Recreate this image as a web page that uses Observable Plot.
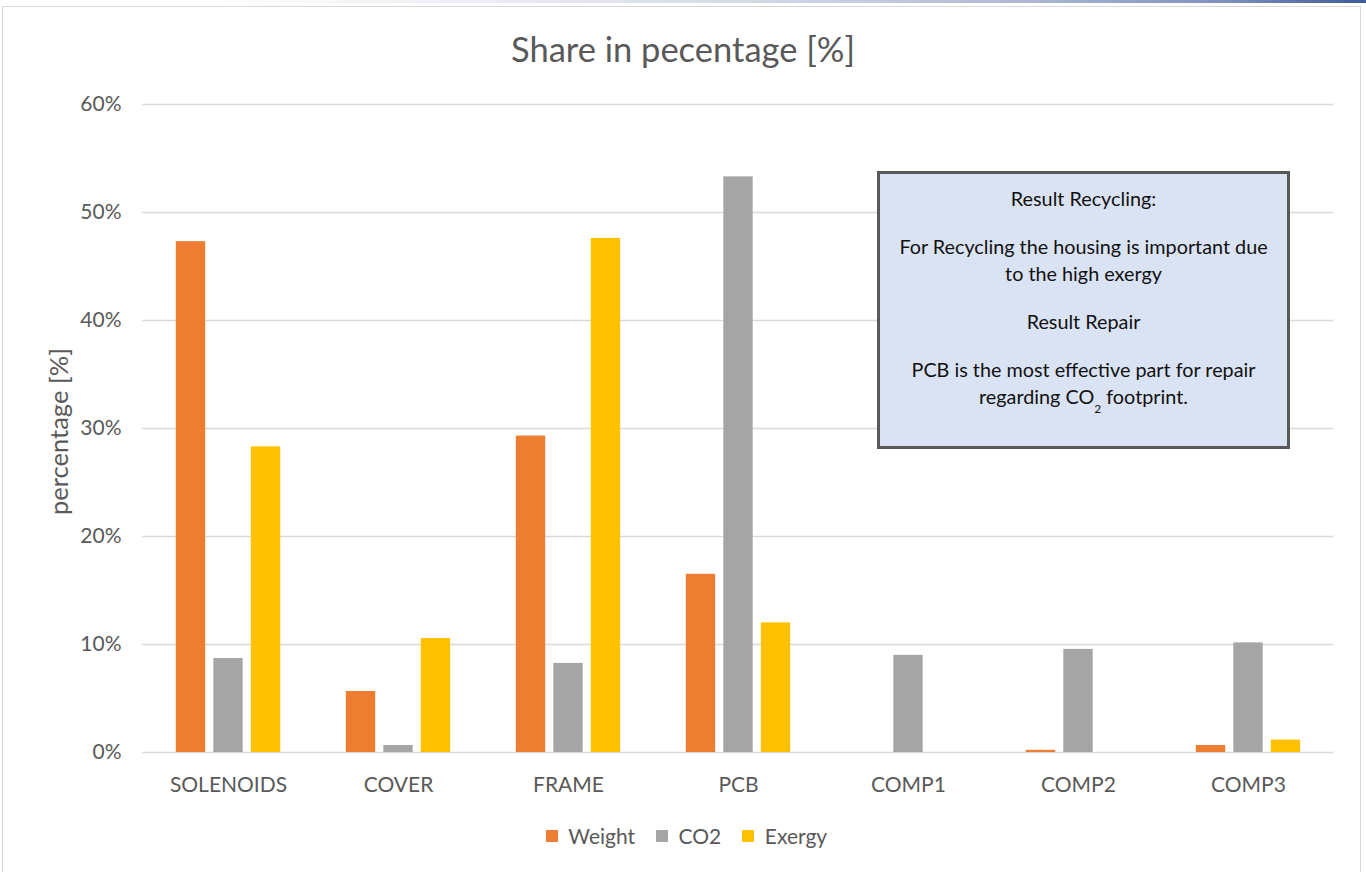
<!DOCTYPE html>
<html>
<head>
<meta charset="utf-8">
<script src="https://cdn.jsdelivr.net/npm/d3@7"></script>
<script src="https://cdn.jsdelivr.net/npm/@observablehq/plot@0.6"></script>
<style>
  html, body { margin: 0; padding: 0; background: #fff; }
  #page { position: relative; width: 1366px; height: 872px; overflow: hidden; font-family: Lato, "Open Sans", sans-serif; }
  #strip { position: absolute; left: 0; top: 0; width: 1366px; height: 3px;
    background: linear-gradient(to right, #ffffff 14%, #eceef4 35%, #d4d9e6 55%, #aeb8d2 75%, #7d8fbd 90%, #3d5a98 100%); }
  #frame { position: absolute; left: 2px; top: 6px; width: 1359px; height: 900px; border: 1.5px solid #d9d9d9; box-sizing: border-box; }
  #title { position: absolute; left: 0; top: 27px; width: 1366px; text-align: center; font-size: 34.5px; color: #595959; line-height: 44px; }
  #chart { position: absolute; left: 0; top: 80px; }
  #legend { position: absolute; left: 14px; top: 819px; width: 1366px; display: flex; justify-content: center; }
  #note { position: absolute; left: 877px; top: 171px; width: 413px; height: 278px; box-sizing: border-box;
    background: #dae3f3; border: 3px solid #595959; text-align: center; color: #111; font-size: 19.8px;
    line-height: 27px; padding-top: 11px; }
  #note p { margin: 0 0 21px 0; }
  #note sub { font-size: 12px; vertical-align: -9px; line-height: 0; }
</style>
</head>
<body>
<div id="page">
  <div id="strip"></div>
  <div id="frame"></div>
  <div id="title">Share in pecentage [%]</div>
  <div id="chart"></div>
  <div id="note">
    <p>Result Recycling:</p>
    <p>For Recycling the housing is important due<br>to the high exergy</p>
    <p>Result Repair</p>
    <p>PCB is the most effective part for repair<br>regarding CO<sub>2</sub> footprint.</p>
  </div>
  <div id="legend"></div>
</div>
<script>
// Components of the assembly and the three measures compared for each one
const categories = ["SOLENOIDS", "COVER", "FRAME", "PCB", "COMP1", "COMP2", "COMP3"];
const series = ["Weight", "CO2", "Exergy"];

// Share of each component in percent
const weight = [47.3, 5.65, 29.3, 16.5, 0, 0.2, 0.65];
const co2 = [8.7, 0.65, 8.25, 53.3, 9.0, 9.55, 10.15];
const exergy = [28.3, 10.55, 47.6, 12.0, 0, 0, 1.15];

const seriesColors = ["#ed7d31", "#a5a5a5", "#ffc000"];
const yTicks = [0, 10, 20, 30, 40, 50, 60];

const valuesBySeries = {Weight: weight, CO2: co2, Exergy: exergy};
const rows = series.flatMap(s =>
  categories.map((c, i) => ({category: c, series: s, value: valuesBySeries[s][i]}))
);

// Grouped bars: each series is shifted inside its category band
const barWidth = 29.5;
const barStep = 37.5;
const band = (1366 - 142 - 33) / categories.length;
const inset = (band - barWidth) / 2;

const chart = Plot.plot({
  width: 1366,
  height: 720,
  marginLeft: 142,
  marginRight: 33,
  marginTop: 24,
  marginBottom: 48,
  style: {fontFamily: "Lato, 'Open Sans', sans-serif", fontSize: "21px", color: "#595959", background: "transparent"},
  x: {domain: categories, padding: 0, label: null},
  y: {domain: [0, 60], label: null},
  color: {domain: series, range: seriesColors},
  marks: [
    Plot.ruleY(yTicks, {stroke: "#d9d9d9", strokeWidth: 1.5}),
    ...series.map((s, i) =>
      Plot.barY(rows.filter(r => r.series === s), {
        x: "category",
        y: "value",
        fill: "series",
        dx: (i - 1) * barStep,
        insetLeft: inset,
        insetRight: inset
      })
    ),
    Plot.axisX({tickSize: 0, tickPadding: 25, label: null}),
    Plot.axisY({ticks: yTicks, tickFormat: d => `${d}%`, tickSize: 0, tickPadding: 21, label: null}),
    Plot.text(["percentage [%]"], {
      frameAnchor: "left",
      text: d => d,
      rotate: -90,
      textAnchor: "middle",
      dx: -83,
      dy: 3,
      fontSize: 25.5,
      fill: "#595959"
    })
  ]
});
document.getElementById("chart").append(chart);

const legend = Plot.legend({
  color: {type: "ordinal", domain: series, range: seriesColors},
  legend: "swatches",
  swatchSize: 12,
  style: {fontFamily: "Lato, 'Open Sans', sans-serif", fontSize: "21px", color: "#595959"}
});
document.getElementById("legend").append(legend);
</script>
</body>
</html>
